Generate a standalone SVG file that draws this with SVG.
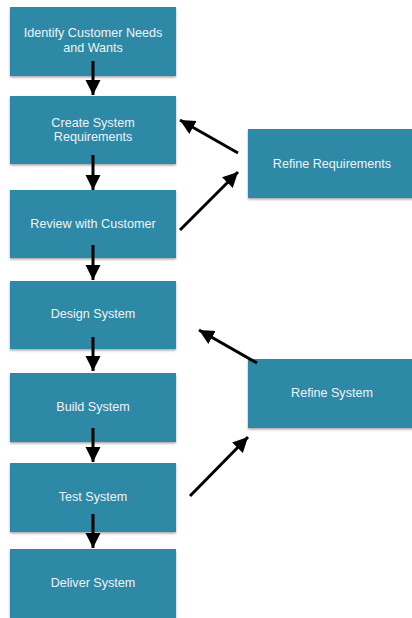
<svg xmlns="http://www.w3.org/2000/svg" width="412" height="618" viewBox="0 0 412 618">
<defs>
<filter id="sh" x="-10%" y="-10%" width="120%" height="130%">
<feDropShadow dx="0" dy="1.5" stdDeviation="1.2" flood-color="#000" flood-opacity="0.35"/>
</filter>
<marker id="ah" markerUnits="userSpaceOnUse" markerWidth="16" markerHeight="16" viewBox="0 0 16 16" refX="15" refY="8" orient="auto">
<path d="M0,0.5 L15,8 L0,15.5 Z" fill="#000"/>
</marker>
</defs>
<style>
.box{fill:#2e89a6;filter:url(#sh)}
.t{font-family:"Liberation Sans",Arial,sans-serif;font-size:12.6px;fill:#eef4f7;text-anchor:middle}
.c{stroke:#000;stroke-width:3;fill:none;marker-end:url(#ah)}
</style>
<rect width="412" height="618" fill="#fff"/>
<g id="n1"><rect class="box" x="10" y="7" width="166" height="69"/><text class="t" x="93" y="37">Identify Customer Needs</text><text class="t" x="93" y="52">and Wants</text></g>
<g id="n2"><rect class="box" x="10" y="96" width="166" height="68"/><text class="t" x="93" y="127">Create System</text><text class="t" x="93" y="141">Requirements</text></g>
<g id="n3"><rect class="box" x="10" y="190" width="166" height="68"/><text class="t" x="93" y="228">Review with Customer</text></g>
<g id="n4"><rect class="box" x="10" y="281" width="166" height="68"/><text class="t" x="93" y="318">Design System</text></g>
<g id="n5"><rect class="box" x="10" y="373" width="166" height="69"/><text class="t" x="93" y="411">Build System</text></g>
<g id="n6"><rect class="box" x="10" y="463" width="166" height="69"/><text class="t" x="93" y="501">Test System</text></g>
<g id="n7"><rect class="box" x="10" y="549" width="166" height="69"/><text class="t" x="93" y="587">Deliver System</text></g>
<g id="r1"><rect class="box" x="248" y="129" width="170" height="69"/><text class="t" x="332" y="168">Refine Requirements</text></g>
<g id="r2"><rect class="box" x="248" y="359" width="170" height="69"/><text class="t" x="332" y="397">Refine System</text></g>
<g id="connectors">
<line class="c" x1="93" y1="61" x2="93" y2="95"/>
<line class="c" x1="93" y1="155" x2="93" y2="190"/>
<line class="c" x1="93" y1="245" x2="93" y2="280"/>
<line class="c" x1="93" y1="337" x2="93" y2="371"/>
<line class="c" x1="93" y1="428" x2="93" y2="462"/>
<line class="c" x1="93" y1="514" x2="93" y2="548"/>
<line class="c" x1="238" y1="153" x2="180" y2="120"/>
<line class="c" x1="180" y1="230" x2="238" y2="172"/>
<line class="c" x1="257" y1="363" x2="199" y2="330"/>
<line class="c" x1="190" y1="496" x2="248" y2="437"/>
</g>
</svg>
